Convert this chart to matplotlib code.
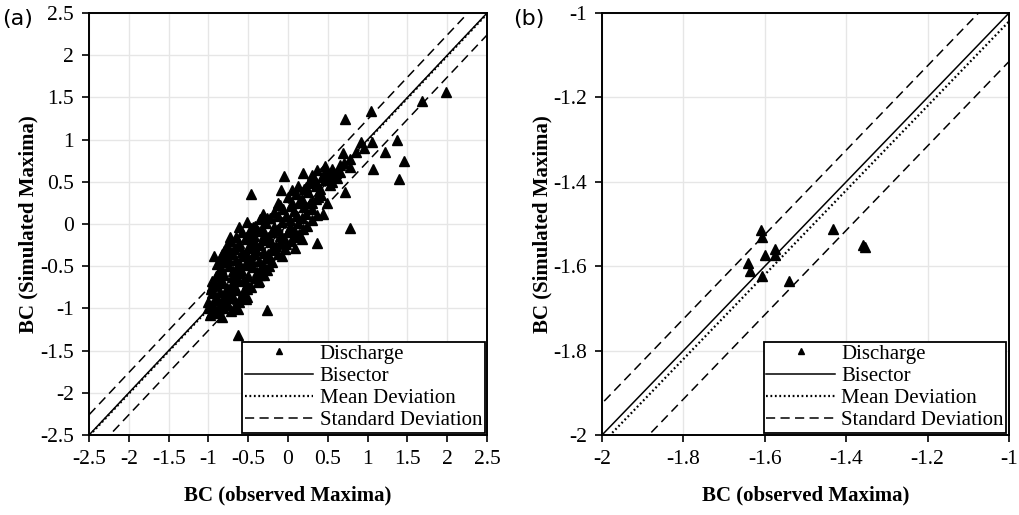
import numpy as np
import matplotlib
matplotlib.use('Agg')
import matplotlib.pyplot as plt

plt.rcParams['font.family'] = ['Liberation Serif', 'DejaVu Serif']

# ---- panel (a): observed vs simulated BC of discharge maxima ----
obs_a = [-0.05, 0.185, 0.36, 0.465, 0.43, -0.09, -0.465, 0.22, 0.32, -0.13, 0.04, -0.06,
         0.17, 0.28, 0.42, 0.38, 0.36, 0.44, -0.61, -0.435, -0.35, -0.73, -0.225, -0.14,
         0.11, 0.36, 0.09, -0.925, 0.17, -0.07, -0.27, -0.63, -0.98, -0.835, -0.63, -0.96,
         -0.53, -0.35, -0.38, -0.77, -0.185, 0.15, 0.715, 1.04, 1.99, 1.68, 1.37, 1.055,
         0.92, 0.95, 1.22, 1.46, 0.695, 0.78, 1.07, 1.39, 0.78, 0.57, 0.34, 0.715, 0.53,
         0.465, 0.78, 0.485, -0.52, 0.6, 0.65, 0.85, 0.55, 0.7, 0.62,
         -0.32, -0.18, -0.02, 0.08, 0.22, 0.3,
         -0.52, -0.42, -0.28, -0.18, -0.08, 0.02, 0.12, 0.24,
         -0.58, -0.48, -0.38, -0.3, -0.2, -0.1, 0.0, 0.14,
         -0.72, -0.62, -0.52, -0.42, -0.32, -0.22, -0.1, 0.04,
         -0.8, -0.68, -0.58, -0.5, -0.4, -0.3, -0.2, -0.04,
         -0.86, -0.76, -0.66, -0.56, -0.46, -0.36, -0.26,
         -0.84, -0.74, -0.64, -0.54, -0.44, -0.34, -0.24,
         -0.9, -0.8, -0.7, -0.6, -0.5, -0.42, -0.3,
         -0.92, -0.82, -0.72, -0.62, -0.52, -0.46,
         -0.96, -0.86, -0.76, -0.66, -0.56,
         -1.0, -0.9, -0.8, -0.7, -0.62,
         -1.0, -0.92, -0.82, -0.72,
         -0.1, 0.05, 0.2, 0.3, 0.0, 0.1, 0.25, 0.35, 0.12, 0.26, 0.4, 0.3, 0.46]
sim_a = [0.57, 0.61, 0.64, 0.69, 0.56, 0.40, 0.35, 0.44, 0.49, 0.245, 0.21, 0.175,
         0.30, 0.255, 0.345, 0.32, 0.11, 0.12, -0.03, -0.03, 0.055, -0.15, 0.07, -0.07,
         0.09, -0.225, -0.28, -0.38, -0.175, -0.38, -1.02, -1.32, -1.08, -1.10, -1.01, -0.735,
         -0.89, -0.605, -0.685, -0.29, -0.31, 0.285, 1.25, 1.335, 1.57, 1.46, 1.0, 0.975,
         0.975, 0.90, 0.855, 0.75, 0.845, 0.77, 0.65, 0.535, 0.675, 0.62, 0.52, 0.385, 0.46,
         0.52, -0.05, 0.245, -0.86, 0.6, 0.7, 0.85, 0.5, 0.72, 0.55,
         0.12, 0.14, 0.10, 0.16, 0.12, 0.05,
         0.02, -0.02, 0.01, -0.03, 0.02, -0.04, 0.01, -0.02,
         -0.1, -0.12, -0.08, -0.13, -0.09, -0.14, -0.1, -0.12,
         -0.2, -0.22, -0.18, -0.23, -0.19, -0.21, -0.22, -0.2,
         -0.32, -0.3, -0.33, -0.28, -0.31, -0.34, -0.29, -0.3,
         -0.42, -0.4, -0.43, -0.38, -0.41, -0.44, -0.4,
         -0.52, -0.5, -0.53, -0.48, -0.51, -0.54, -0.5,
         -0.62, -0.6, -0.63, -0.58, -0.61, -0.64, -0.6,
         -0.72, -0.7, -0.73, -0.68, -0.71, -0.75,
         -0.82, -0.8, -0.83, -0.78, -0.81,
         -0.92, -0.9, -0.93, -0.88, -0.92,
         -1.0, -1.02, -0.99, -1.03,
         0.22, 0.25, 0.2, 0.18, 0.32, 0.35, 0.38, 0.3, 0.45, 0.5, 0.42, 0.58, 0.6]

# overlapping points in the dense core of the cloud
obs_core = [-0.27, -0.13, 0.03, 0.17,
            -0.47, -0.33, -0.13, 0.07, 0.19,
            -0.65, -0.53, -0.43, -0.25, -0.05, 0.09,
            -0.77, -0.63, -0.45, -0.35, -0.15, -0.02,
            -0.83, -0.71, -0.53, -0.43, -0.25, -0.12,
            -0.89, -0.79, -0.61, -0.49, -0.31, -0.2,
            -0.87, -0.69, -0.59, -0.39, -0.27,
            -0.95, -0.85, -0.65, -0.55, -0.37,
            -0.97, -0.77, -0.67, -0.51,
            -0.91, -0.81, -0.71, -0.59,
            -0.95, -0.85, -0.75, -0.67,
            -0.97, -0.87,
            0.15, 0.3, 0.05, 0.2, 0.35, 0.5, 0.55, 0.65]
sim_core = [0.07, 0.09, 0.05, 0.07,
            -0.05, -0.05, -0.06, -0.07, -0.06,
            -0.15, -0.15, -0.14, -0.15, -0.16, -0.15,
            -0.25, -0.26, -0.26, -0.25, -0.26, -0.24,
            -0.36, -0.35, -0.34, -0.36, -0.35, -0.36,
            -0.47, -0.45, -0.46, -0.45, -0.47, -0.45,
            -0.56, -0.56, -0.55, -0.57, -0.55,
            -0.67, -0.66, -0.65, -0.66, -0.68,
            -0.77, -0.76, -0.75, -0.77,
            -0.86, -0.85, -0.84, -0.86,
            -0.96, -0.95, -0.96, -0.97,
            -1.05, -1.06,
            0.25, 0.25, 0.4, 0.42, 0.45, 0.55, 0.65, 0.62]

# ---- panel (b) ----
obs_b = [-1.609, -1.608, -1.576, -1.576, -1.599, -1.642, -1.636, -1.608, -1.541,
         -1.433, -1.358, -1.355]
sim_b = [-1.515, -1.531, -1.558, -1.573, -1.573, -1.592, -1.612, -1.624, -1.635,
         -1.511, -1.550, -1.555]

# mean deviation and standard deviation of the residuals
mean_dev = {'a': -0.01, 'b': -0.02}
std_dev = {'a': 0.25, 'b': 0.095}

ticks_a = [-2.5, -2, -1.5, -1, -0.5, 0, 0.5, 1, 1.5, 2, 2.5]
labels_a = ['-2.5', '-2', '-1.5', '-1', '-0.5', '0', '0.5', '1', '1.5', '2', '2.5']
ticks_b = [-2, -1.8, -1.6, -1.4, -1.2, -1]
labels_b = ['-2', '-1.8', '-1.6', '-1.4', '-1.2', '-1']

SERIF = ['Liberation Serif', 'DejaVu Serif']

fig = plt.figure(figsize=(10.2, 5.15), dpi=100)
ax1 = fig.add_axes([0.0873, 0.1553, 0.3902, 0.8194])
ax2 = fig.add_axes([0.5902, 0.1553, 0.3990, 0.8194])


def draw_panel(ax, obs, sim, key, ticks, labels, tag, tag_x, ypad):
    lo, hi = ticks[0], ticks[-1]
    xx = np.array([lo - 1, hi + 1])
    m, s = mean_dev[key], std_dev[key]
    ax.plot(obs, sim, linestyle='none', marker='^', color='black', markersize=7,
            label='Discharge', zorder=4)
    ax.plot(xx, xx, color='black', lw=1.1, label='Bisector', zorder=3)
    ax.plot(xx, xx + m, color='black', lw=1.6, linestyle=(0, (0.8, 1.2)),
            label='Mean Deviation', zorder=3)
    ax.plot(xx, xx + m + s, color='black', lw=1.1, linestyle=(0, (6, 3.5)),
            label='Standard Deviation', zorder=3)
    ax.plot(xx, xx + m - s, color='black', lw=1.1, linestyle=(0, (6, 3.5)), zorder=3)

    ax.set_xlim(lo, hi)
    ax.set_ylim(lo, hi)
    ax.set_xticks(ticks)
    ax.set_xticklabels(labels, fontfamily=SERIF, fontsize=15.5)
    ax.set_yticks(ticks)
    ax.set_yticklabels(labels, fontfamily=SERIF, fontsize=15.5)
    ax.tick_params(direction='out', length=5, width=1.2, pad=6)
    ax.grid(True, color='#e6e6e6', lw=1.0, zorder=0)
    ax.set_axisbelow(True)
    for sp in ax.spines.values():
        sp.set_linewidth(1.4)

    ax.set_xlabel('BC (observed Maxima)', fontsize=15, fontweight='bold', labelpad=12)
    ax.set_ylabel('BC (Simulated Maxima)', fontsize=15, fontweight='bold', labelpad=ypad)

    leg = ax.legend(loc='lower right', fontsize=15, frameon=True, fancybox=False,
                    edgecolor='black', framealpha=1, borderaxespad=0.12,
                    labelspacing=0.12, handlelength=3.3, handletextpad=0.3,
                    borderpad=0.12, markerscale=0.55)
    leg.get_frame().set_linewidth(1.3)

    fig.text(tag_x, 0.963, tag, fontsize=16, family='DejaVu Sans', va='center')


draw_panel(ax1, obs_a + obs_core, sim_a + sim_core, 'a', ticks_a, labels_a, '(a)', 0.002, 1)
draw_panel(ax2, obs_b, sim_b, 'b', ticks_b, labels_b, '(b)', 0.503, 0)

fig.savefig('out.png', dpi=100)
